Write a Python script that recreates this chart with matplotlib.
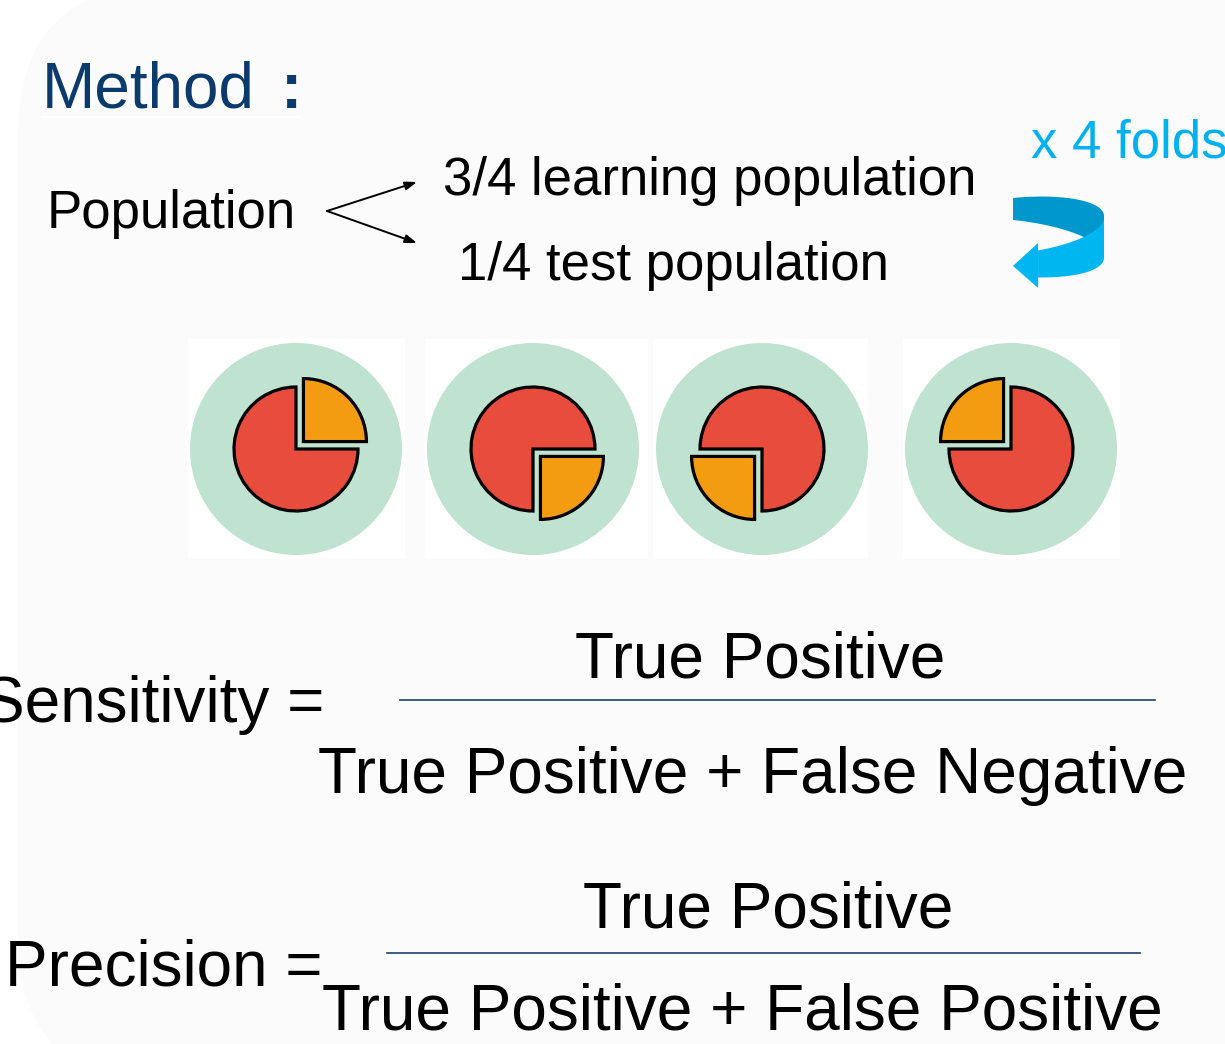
import matplotlib.pyplot as plt
import numpy as np
from matplotlib.patches import Wedge, Circle, Rectangle, FancyBboxPatch, Polygon

W, H = 1225, 1044
plt.rcParams['font.family'] = ['Liberation Sans', 'DejaVu Sans']

# diagram content
title = 'Method'
split_labels = ['3/4 learning population', '1/4 test population']
repeat_label = 'x 4 folds'
shares = [3, 1]                      # learning, test (quarters)
test_start = [0, 270, 180, 90]       # angle where the test quarter starts, per fold
fold_x = [296, 533, 762, 1011]       # fold centres (px)
tile_edges = [(188, 405), (425, 648), (653, 868), (903, 1120)]
formulas = [('Sensitivity =', 'True Positive', 'True Positive + False Negative'),
            ('Precision =', 'True Positive', 'True Positive + False Positive')]

C_BLUE = '#0b3a6c'
C_CYAN = '#00b0f0'
C_GREEN = '#bfe3d0'
C_RED = '#e84c3d'
C_ORANGE = '#f39c12'


def Y(y):
    return H - y


fig = plt.figure(figsize=(W / 100, H / 100), dpi=100)
ax = fig.add_axes([0, 0, 1, 1])
ax.set_xlim(0, W)
ax.set_ylim(0, H)
ax.axis('off')

# slide background
ax.add_patch(FancyBboxPatch((18, Y(1085)), 1300, 1100, boxstyle='round,pad=0,rounding_size=150',
                            fc='#fbfbfb', ec='none', zorder=0))

# title
ax.add_patch(Rectangle((42, Y(118)), 258, 2, fc='white', ec='none', zorder=1))
ax.text(42, Y(108), title, fontsize=46, color=C_BLUE, va='baseline')
ax.text(281, Y(108), ':', fontsize=46, color=C_BLUE, va='baseline', fontweight='bold')

# population split
ax.text(47, Y(228), 'Population', fontsize=38, va='baseline')
for ty, lab, lx, by in [(182, split_labels[0], 443, 195), (243, split_labels[1], 458, 280)]:
    ax.annotate('', xy=(417, Y(ty)), xytext=(327, Y(211)),
                arrowprops=dict(arrowstyle='-|>,head_length=0.7,head_width=0.25', lw=1.4, color='black',
                                shrinkA=0, shrinkB=0))
    ax.text(lx, Y(by), lab, fontsize=38, va='baseline')

ax.text(1031, Y(157), repeat_label, fontsize=38, color=C_CYAN, va='baseline')

# curved repeat arrow (ribbon on an ellipse, wider where it turns)
cx, cy, a, b = 1013, 236, 91, 27
t_top = np.radians(np.linspace(90, 0, 40))
xt = cx + a * np.cos(t_top)
yt = cy - b * np.sin(t_top)
hw = 11 + 9 * np.cos(t_top)
top = np.vstack([np.c_[xt, Y(yt - hw)], np.c_[xt[::-1], Y(yt[::-1] + hw[::-1])]])
ax.add_patch(Polygon(top, closed=True, fc='#0097cc', ec='none', zorder=3))
t_bot = np.radians(np.linspace(0, -74, 40))
xb = cx + a * np.cos(t_bot)
yb = cy - b * np.sin(t_bot) + 2
hb = 11 + 9 * np.cos(t_bot)
bot = np.vstack([np.c_[xb, Y(yb - hb)], np.c_[xb[::-1], Y(yb[::-1] + hb[::-1])]])
ax.add_patch(Polygon(bot, closed=True, fc='#00b6f1', ec='none', zorder=3))
ax.add_patch(Polygon([(xb[-1], Y(yb[-1] - 21)), (1013, Y(yb[-1] + 2)), (xb[-1], Y(yb[-1] + 24))],
                     closed=True, fc='#00b6f1', ec='none', zorder=3))

# folds
yc = Y(449)
test_span = 360 * shares[1] / sum(shares)
for x0, (e0, e1), s in zip(fold_x, tile_edges, test_start):
    ax.add_patch(Rectangle((e0, Y(559)), e1 - e0, 220, fc='white', ec='none', zorder=1))
    ax.add_patch(Circle((x0, yc), 106, fc=C_GREEN, ec='none', zorder=2))
    mid = np.radians(s + test_span / 2)
    dx, dy = 10.5 * np.cos(mid), 10.5 * np.sin(mid)
    ax.add_patch(Wedge((x0, yc), 62, s + test_span, s + 360,
                       fc=C_RED, ec='black', lw=2.3, zorder=3))
    ax.add_patch(Wedge((x0 + dx, yc + dy), 63, s, s + test_span,
                       fc=C_ORANGE, ec='black', lw=2.3, zorder=3))

# formulas
layout = [dict(ly=722, lx=-18, ny=678, nx=575, fy=700, f0=400, f1=1155, dy=793, dx=318),
          dict(ly=985, lx=5, ny=928, nx=583, fy=953, f0=387, f1=1140, dy=1030, dx=322)]
for (lab, num, den), p in zip(formulas, layout):
    ax.text(p['lx'], Y(p['ly']), lab, fontsize=46, va='baseline')
    ax.text(p['nx'], Y(p['ny']), num, fontsize=46, va='baseline')
    ax.plot([p['f0'], p['f1']], [Y(p['fy'])] * 2, color='#1f3f70', lw=1.2)
    ax.text(p['dx'], Y(p['dy']), den, fontsize=46, va='baseline')

fig.savefig('out.png', dpi=100)
